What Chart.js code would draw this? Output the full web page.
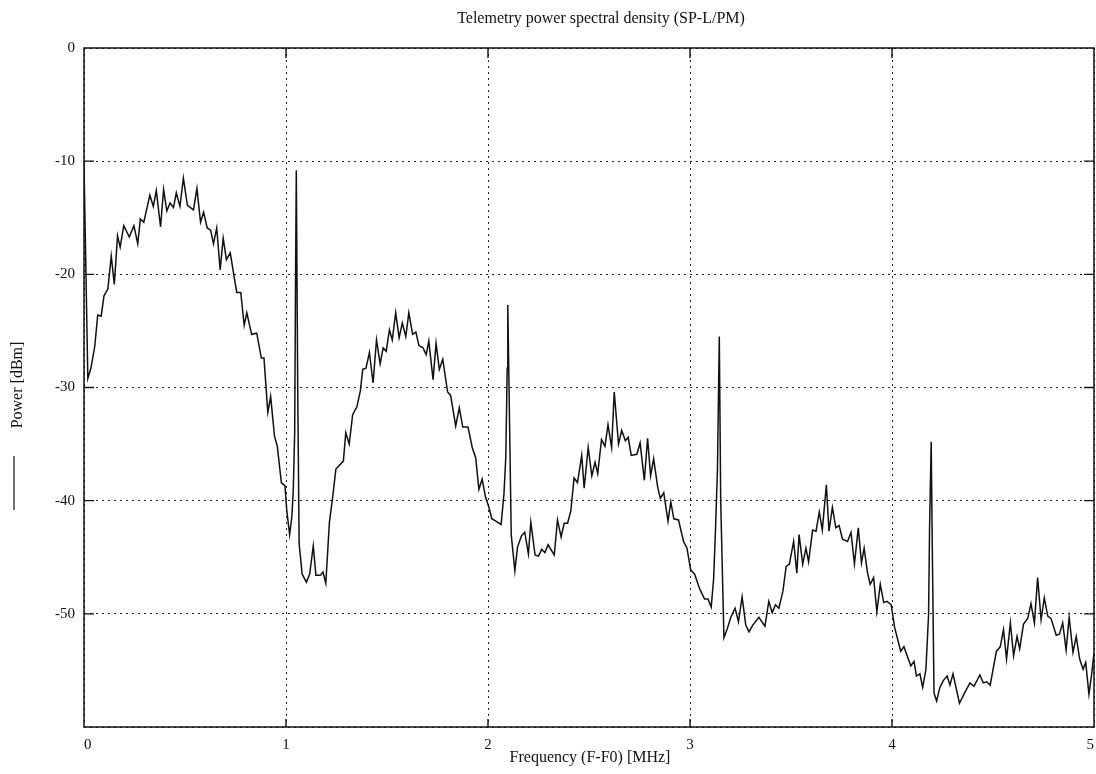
<!DOCTYPE html>
<html>
<head>
<meta charset="utf-8">
<title>Telemetry power spectral density</title>
<script src="https://cdn.jsdelivr.net/npm/chart.js@4.4.1/dist/chart.umd.min.js"></script>
<style>
  html, body { margin: 0; padding: 0; background: #fff; }
  #wrap { width: 1096px; height: 774px; }
</style>
</head>
<body>
<div id="wrap"><canvas id="psd" width="1096" height="774"></canvas></div>
<script>
// spectrum: frequency offset (MHz) and power (dBm)
const freqMHz = [
  0.000, 0.019, 0.034, 0.053, 0.068, 0.085, 0.099, 0.118, 0.135, 0.150,
  0.166, 0.179, 0.197, 0.224, 0.247, 0.266, 0.279, 0.296, 0.326, 0.343,
  0.358, 0.379, 0.394, 0.410, 0.426, 0.443, 0.457, 0.475, 0.492, 0.512,
  0.542, 0.559, 0.577, 0.592, 0.610, 0.627, 0.641, 0.657, 0.674, 0.689,
  0.705, 0.724, 0.756, 0.776, 0.793, 0.806, 0.830, 0.855, 0.878, 0.891,
  0.910, 0.924, 0.943, 0.957, 0.977, 0.995, 1.004, 1.018, 1.029, 1.036,
  1.043, 1.047, 1.051, 1.058, 1.065, 1.080, 1.101, 1.117, 1.135, 1.148,
  1.170, 1.183, 1.197, 1.215, 1.231, 1.247, 1.284, 1.296, 1.313, 1.330,
  1.351, 1.368, 1.380, 1.396, 1.413, 1.431, 1.448, 1.466, 1.481, 1.496,
  1.512, 1.526, 1.543, 1.560, 1.576, 1.593, 1.608, 1.627, 1.643, 1.658,
  1.678, 1.694, 1.707, 1.728, 1.743, 1.759, 1.776, 1.800, 1.815, 1.840,
  1.858, 1.875, 1.901, 1.922, 1.939, 1.955, 1.971, 1.988, 2.003, 2.019,
  2.039, 2.065, 2.079, 2.088, 2.092, 2.095, 2.098, 2.115, 2.133, 2.146,
  2.166, 2.182, 2.200, 2.212, 2.233, 2.250, 2.266, 2.282, 2.297, 2.328,
  2.344, 2.362, 2.377, 2.394, 2.410, 2.426, 2.443, 2.464, 2.476, 2.496,
  2.514, 2.530, 2.543, 2.562, 2.579, 2.594, 2.612, 2.625, 2.646, 2.662,
  2.680, 2.694, 2.709, 2.737, 2.753, 2.774, 2.790, 2.805, 2.820, 2.840,
  2.853, 2.870, 2.891, 2.905, 2.920, 2.943, 2.968, 2.985, 3.003, 3.023,
  3.048, 3.072, 3.089, 3.105, 3.117, 3.127, 3.136, 3.145, 3.152, 3.168,
  3.185, 3.202, 3.223, 3.240, 3.258, 3.276, 3.292, 3.311, 3.341, 3.371,
  3.390, 3.407, 3.423, 3.440, 3.460, 3.476, 3.492, 3.513, 3.529, 3.540,
  3.558, 3.574, 3.587, 3.607, 3.624, 3.640, 3.655, 3.675, 3.688, 3.705,
  3.722, 3.738, 3.755, 3.780, 3.797, 3.814, 3.833, 3.849, 3.862, 3.879,
  3.892, 3.909, 3.925, 3.942, 3.959, 3.975, 3.996, 4.013, 4.043, 4.059,
  4.093, 4.109, 4.121, 4.138, 4.152, 4.168, 4.181, 4.186, 4.194, 4.200,
  4.208, 4.221, 4.237, 4.254, 4.273, 4.287, 4.302, 4.334, 4.362, 4.386,
  4.406, 4.435, 4.452, 4.469, 4.486, 4.517, 4.536, 4.552, 4.567, 4.586,
  4.602, 4.619, 4.632, 4.651, 4.672, 4.688, 4.705, 4.721, 4.738, 4.754,
  4.771, 4.787, 4.813, 4.829, 4.845, 4.862, 4.877, 4.896, 4.912, 4.929,
  4.946, 4.959, 4.975, 4.988, 5.000
];
const powerDbm = [
  -10.3, -29.2, -28.3, -26.4, -23.6, -23.7, -21.9, -21.3, -18.4, -20.9,
  -16.6, -17.6, -15.7, -16.7, -15.7, -17.3, -15.1, -15.4, -13.0, -14.0,
  -12.6, -15.8, -12.5, -14.4, -13.7, -14.1, -12.8, -14.0, -11.5, -13.9,
  -14.3, -12.4, -15.4, -14.5, -15.9, -16.1, -17.3, -15.9, -19.6, -16.8,
  -18.7, -18.1, -21.6, -21.6, -24.5, -23.4, -25.3, -25.2, -27.4, -27.4,
  -32.2, -30.8, -34.3, -35.2, -38.4, -38.7, -40.9, -43.0, -41.4, -39.1,
  -34.0, -21.3, -10.8, -30.0, -43.8, -46.5, -47.2, -46.5, -44.0, -46.6,
  -46.6, -46.3, -47.3, -41.9, -39.7, -37.2, -36.5, -34.0, -35.0, -32.4,
  -31.7, -30.3, -28.4, -28.3, -26.9, -29.6, -25.8, -27.9, -26.5, -26.8,
  -24.9, -25.8, -23.4, -25.6, -24.3, -25.5, -23.4, -25.3, -25.1, -26.3,
  -26.5, -27.1, -25.9, -29.3, -26.1, -28.4, -27.5, -30.4, -30.7, -33.4,
  -31.8, -33.5, -33.5, -35.3, -36.2, -39.0, -38.1, -39.7, -40.5, -41.6,
  -41.8, -42.1, -39.4, -36.2, -31.8, -28.3, -22.7, -43.0, -46.2, -44.1,
  -43.1, -42.8, -44.7, -41.9, -44.8, -44.9, -44.3, -44.6, -43.9, -44.8,
  -41.7, -43.2, -42.0, -42.0, -40.9, -38.0, -38.4, -36.0, -38.9, -35.3,
  -37.8, -36.6, -37.6, -34.6, -35.2, -33.3, -35.3, -30.4, -35.0, -33.8,
  -34.7, -34.4, -36.0, -35.9, -34.9, -38.2, -34.5, -37.8, -36.3, -38.8,
  -39.8, -39.3, -41.8, -40.1, -41.6, -41.7, -43.6, -44.2, -46.1, -46.5,
  -47.8, -48.7, -48.7, -49.4, -46.9, -42.2, -37.2, -25.5, -40.0, -52.1,
  -51.3, -50.3, -49.5, -50.7, -48.5, -51.0, -51.6, -51.0, -50.3, -51.1,
  -48.9, -49.9, -49.2, -49.5, -48.0, -45.8, -45.6, -43.6, -46.4, -43.0,
  -45.6, -44.2, -45.4, -42.6, -42.7, -41.0, -42.6, -38.6, -42.7, -40.6,
  -42.4, -42.2, -43.4, -43.6, -42.8, -45.6, -42.4, -45.5, -44.2, -46.4,
  -47.4, -46.8, -49.8, -47.4, -49.0, -48.9, -49.2, -51.2, -53.3, -52.9,
  -54.6, -54.2, -55.5, -55.3, -56.5, -54.9, -50.1, -42.4, -34.8, -45.0,
  -57.0, -57.7, -56.5, -55.9, -55.5, -56.3, -55.3, -57.9, -56.9, -56.1,
  -56.4, -55.4, -56.1, -56.0, -56.3, -53.3, -52.9, -51.4, -54.0, -50.8,
  -53.7, -52.0, -53.1, -50.9, -50.4, -49.1, -50.8, -46.8, -50.5, -48.6,
  -50.2, -50.4, -51.9, -51.8, -50.8, -53.2, -50.3, -53.4, -52.0, -54.0,
  -54.9, -54.3, -57.1, -55.4, -53.5
];
const xTicks = [0, 1, 2, 3, 4, 5];
const yTicks = [0, -10, -20, -30, -40, -50];

const chartTitle = 'Telemetry power spectral density (SP-L/PM)';
const xTitle = 'Frequency (F-F0) [MHz]';
const yTitle = 'Power [dBm]';

const serif = "'Liberation Serif', 'DejaVu Serif', serif";
const ink = '#111';

// frame, inward tick marks and the text around the plot
const decor = {
  id: 'decor',
  afterDraw(chart) {
    const { ctx, chartArea: a, scales: { x, y } } = chart;
    ctx.save();
    ctx.strokeStyle = ink;
    ctx.lineWidth = 1.5;
    ctx.strokeRect(a.left, a.top, a.right - a.left, a.bottom - a.top);

    ctx.lineWidth = 1.4;
    ctx.beginPath();
    yTicks.slice(1).forEach(v => {
      const py = y.getPixelForValue(v);
      ctx.moveTo(a.left, py); ctx.lineTo(a.left + 10, py);
      ctx.moveTo(a.right, py); ctx.lineTo(a.right - 10, py);
    });
    xTicks.slice(1, -1).forEach(v => {
      const px = x.getPixelForValue(v);
      ctx.moveTo(px, a.top); ctx.lineTo(px, a.top + 10);
      ctx.moveTo(px, a.bottom); ctx.lineTo(px, a.bottom - 8);
    });
    ctx.stroke();

    // little legend stroke on the left
    ctx.lineWidth = 1.2;
    ctx.beginPath();
    ctx.moveTo(14, 456); ctx.lineTo(14, 510);
    ctx.stroke();

    ctx.fillStyle = ink;
    ctx.textAlign = 'center';
    ctx.textBaseline = 'middle';
    ctx.font = '16px ' + serif;
    ctx.fillText(chartTitle, 601, 19);
    ctx.fillText(xTitle, 590, 758);
    ctx.translate(18, 385);
    ctx.rotate(-Math.PI / 2);
    ctx.fillText(yTitle, 0, 0);
    ctx.restore();
  }
};

const ctx = document.getElementById('psd').getContext('2d');
new Chart(ctx, {
  type: 'line',
  data: {
    datasets: [{
      label: 'PSD',
      data: freqMHz.map((f, i) => ({ x: f, y: powerDbm[i] })),
      borderColor: ink,
      borderWidth: 1.5,
      pointRadius: 0,
      tension: 0,
      fill: false
    }]
  },
  options: {
    responsive: false,
    animation: false,
    layout: { padding: { top: 48, right: 2, left: 0, bottom: 0 } },
    plugins: {
      legend: { display: false },
      title: { display: false },
      tooltip: { enabled: false }
    },
    scales: {
      x: {
        type: 'linear',
        min: 0,
        max: 5,
        afterFit: s => { s.height = 47; s.paddingLeft = 0; s.paddingRight = 0; },
        ticks: {
          stepSize: 1,
          padding: 9,
          align: 'inner',
          color: ink,
          font: { family: serif, size: 15 },
          callback: v => xTicks.includes(v) ? String(v) : ''
        },
        grid: { color: '#222', lineWidth: 1, drawTicks: false },
        border: { display: false, dash: [2, 4] }
      },
      y: {
        type: 'linear',
        min: -60,
        max: 0,
        afterFit: s => { s.width = 84; },
        ticks: {
          stepSize: 10,
          padding: 9,
          color: ink,
          font: { family: serif, size: 15 },
          callback: v => yTicks.includes(v) ? String(v) : ''
        },
        grid: { color: '#222', lineWidth: 1, drawTicks: false },
        border: { display: false, dash: [2, 4] }
      }
    }
  },
  plugins: [decor]
});
</script>
</body>
</html>
